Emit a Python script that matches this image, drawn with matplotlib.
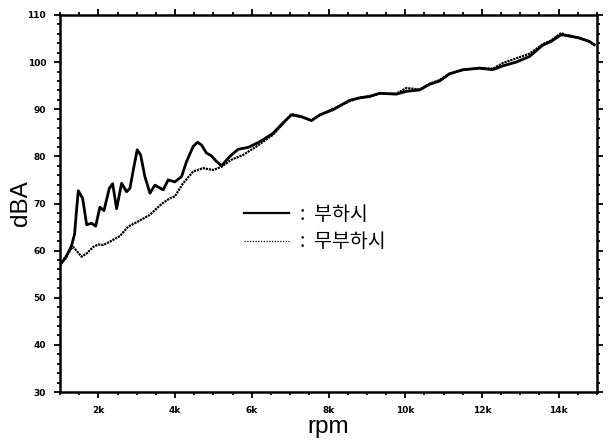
import matplotlib
matplotlib.use("Agg")
import matplotlib.pyplot as plt
from matplotlib.ticker import MultipleLocator, FixedLocator
from matplotlib.lines import Line2D

# ---- data ----
load_rpm = [1000, 1150, 1300, 1380, 1430, 1477, 1590, 1695, 1825, 1930, 2040, 2146,
            2285, 2372, 2476, 2606, 2736, 2823, 2920, 3013, 3102, 3213, 3344, 3474,
            3690, 3820, 3995, 4169, 4299, 4471, 4586, 4690, 4820, 4950, 5081, 5211,
            5427, 5643, 5904, 6208, 6555, 6800, 7034, 7294, 7555, 7771, 8118, 8552,
            8812, 9073, 9333, 9768, 10029, 10375, 10635, 10896, 11156, 11503, 11938,
            12284, 12545, 12892, 13240, 13586, 13804, 14065, 14281, 14540, 14800, 14930]
load_dba = [57.0, 58.5, 61.0, 63.5, 68.5, 72.7, 71.1, 65.5, 65.8, 65.2, 69.2, 68.5,
            73.2, 74.2, 68.9, 74.3, 72.5, 73.2, 77.5, 81.4, 80.3, 75.7, 72.2, 73.9,
            72.9, 75.0, 74.6, 75.7, 78.9, 82.1, 83.0, 82.4, 80.7, 80.1, 78.9, 78.0,
            80.0, 81.5, 81.9, 83.1, 84.9, 87.0, 88.8, 88.4, 87.6, 88.8, 89.9, 91.9,
            92.4, 92.7, 93.4, 93.2, 93.8, 94.1, 95.3, 96.0, 97.5, 98.4, 98.7,
            98.4, 99.2, 100.0, 101.2, 103.6, 104.4, 105.8, 105.6, 105.1, 104.4, 103.7]

noload_rpm = [1000, 1150, 1304, 1340, 1450, 1564, 1695, 1868, 2000, 2128, 2302, 2562,
              2779, 3083, 3344, 3648, 3865, 3995, 4107, 4211, 4471, 4732, 4992, 5211,
              5471, 5773, 6121, 6555, 6800, 7034, 7294, 7555, 7771, 8118, 8552, 8812,
              9073, 9333, 9768, 10029, 10375, 10635, 10896, 11156, 11503, 11938, 12284,
              12545, 12892, 13240, 13586, 13804, 14065, 14281, 14540, 14800, 14930]
noload_dba = [57.0, 58.8, 60.5, 60.8, 59.8, 58.7, 59.4, 60.8, 61.3, 61.2, 61.9, 63.1,
              65.1, 66.4, 67.6, 69.9, 71.1, 71.5, 73.0, 74.3, 76.8, 77.5, 77.1, 77.8,
              79.3, 80.3, 82.1, 84.6, 86.8, 89.0, 88.5, 87.6, 88.7, 90.1, 91.7, 92.5,
              92.8, 93.3, 93.3, 94.5, 94.2, 95.4, 96.2, 97.6, 98.3, 98.8, 98.6,
              99.8, 100.8, 101.8, 103.8, 104.6, 106.2, 105.4, 105.2, 104.3, 103.6]

x_ticks = [2000, 4000, 6000, 8000, 10000, 12000, 14000]
x_ticklabels = ["2k", "4k", "6k", "8k", "10k", "12k", "14k"]
y_ticks = [30, 40, 50, 60, 70, 80, 90, 100, 110]

series_labels = [":  부하시", ":  무부하시"]

# ---- figure ----
fig = plt.figure(figsize=(6.13, 4.45), dpi=100)
ax = fig.add_axes([60 / 613, 1 - 392 / 445, 537 / 613, 377 / 445])

ax.plot(load_rpm, load_dba, color="black", lw=2.0, solid_joinstyle="round")
ax.plot(noload_rpm, noload_dba, color="black", lw=1.6, linestyle=(0, (1, 0.4)))

ax.set_xlim(1000, 15000)
ax.set_ylim(30, 110)
ax.xaxis.set_major_locator(FixedLocator(x_ticks))
ax.set_xticklabels(x_ticklabels)
ax.xaxis.set_minor_locator(MultipleLocator(500))
ax.yaxis.set_major_locator(FixedLocator(y_ticks))
ax.yaxis.set_minor_locator(MultipleLocator(2))

for s in ax.spines.values():
    s.set_linewidth(1.8)

ax.tick_params(which="both", direction="out", top=True, right=True,
               labeltop=False, labelright=False, width=1.3)
ax.tick_params(which="major", length=4, labelsize=6.5, pad=6)
ax.tick_params(which="minor", length=2.5)
for lab in ax.get_xticklabels() + ax.get_yticklabels():
    lab.set_fontweight("bold")
    lab.set_family("DejaVu Sans")

ax.set_xlabel("rpm", fontsize=17.5, family="Liberation Sans")
ax.set_ylabel("dBA", fontsize=17.5, family="Liberation Sans")
ax.xaxis.set_label_coords(0.5, -0.064)
ax.yaxis.set_label_coords(-0.052, 0.5)

handles = [Line2D([], [], color="black", lw=1.6),
           Line2D([], [], color="black", lw=0.9, linestyle=(0, (1, 1.2)))]
leg = ax.legend(handles, series_labels, loc="upper left",
                bbox_to_anchor=(0.31, 0.546), frameon=False,
                handlelength=2.3, handletextpad=0.6, labelspacing=0.35,
                prop={"family": ["Noto Sans CJK KR", "DejaVu Sans"], "size": 14})

fig.savefig("out.png", dpi=100)
